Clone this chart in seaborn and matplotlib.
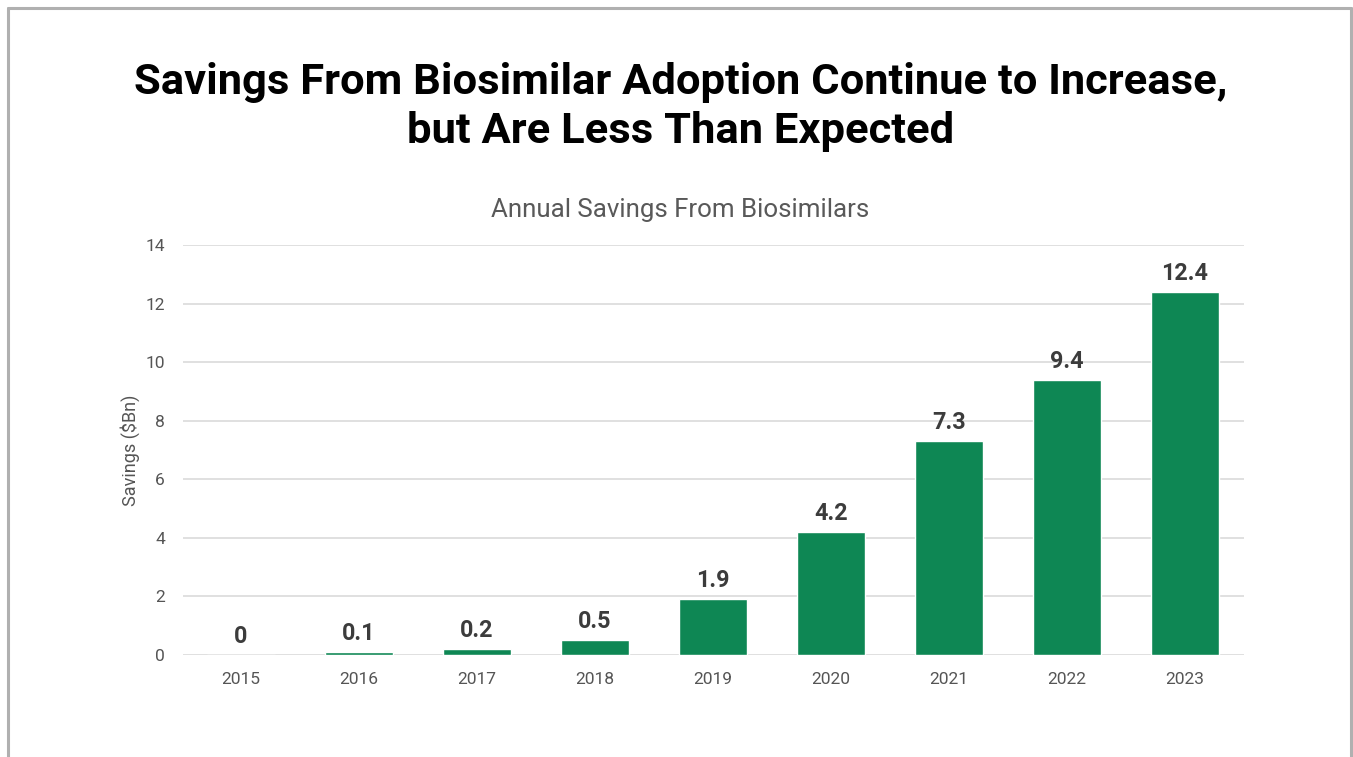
import matplotlib
matplotlib.use("Agg")
import matplotlib.pyplot as plt
from matplotlib.lines import Line2D
import seaborn as sns
import pandas as pd

years = ["2015", "2016", "2017", "2018", "2019", "2020", "2021", "2022", "2023"]
savings = [0, 0.1, 0.2, 0.5, 1.9, 4.2, 7.3, 9.4, 12.4]
value_labels = ["0", "0.1", "0.2", "0.5", "1.9", "4.2", "7.3", "9.4", "12.4"]
y_ticks = [0, 2, 4, 6, 8, 10, 12, 14]

title = "Savings From Biosimilar Adoption Continue to Increase,\nbut Are Less Than Expected"
subtitle = "Annual Savings From Biosimilars"
y_label = "Savings ($Bn)"

bar_color = "#0E8754"
grid_color = "#DADADA"
tick_color = "#555555"

sns.set_theme(style="white")
plt.rcParams["font.family"] = ["Roboto", "DejaVu Sans"]

df = pd.DataFrame({"year": years, "savings": savings})

fig = plt.figure(figsize=(13.53, 7.57), dpi=100)
ax = fig.add_axes([0.1353, 0.1347, 0.7841, 0.5417])

sns.barplot(data=df, x="year", y="savings", color=bar_color, saturation=1,
            width=0.57, ax=ax, zorder=3)

ax.set_ylim(0, 14)
ax.set_xlim(-0.49, 8.5)
ax.set_yticks(y_ticks)
ax.set_yticklabels([str(t) for t in y_ticks])
ax.yaxis.grid(True, color=grid_color, linewidth=1.2, zorder=0)
ax.xaxis.grid(False)
for s in ax.spines.values():
    s.set_visible(False)
ax.tick_params(axis="both", length=0, labelsize=12.5, labelcolor=tick_color)
ax.tick_params(axis="x", pad=12)
ax.tick_params(axis="y", pad=13)
ax.set_xlabel("")
ax.set_ylabel(y_label, fontsize=13, color=tick_color)
ax.yaxis.set_label_coords(-0.041, 0.5)

for i, (v, lab) in enumerate(zip(savings, value_labels)):
    ax.annotate(lab, (i, v), xytext=(0, 5), textcoords="offset points",
                ha="center", va="bottom", fontsize=16.8, fontweight="bold",
                color="#3C3C3C")

fig.text(0.503, 0.858, title, ha="center", va="center", fontsize=31.3,
         fontweight="bold", color="black", linespacing=1.25)
fig.text(0.503, 0.722, subtitle, ha="center", va="center", fontsize=18.6,
         color="#595959")

# frame around the slide (open at the bottom)
W, H = 1353, 757
frame_kw = dict(color="#B0B0B0", linewidth=2.2, transform=fig.transFigure)
fig.add_artist(Line2D([8 / W, 8 / W], [0, 1 - 8 / H], **frame_kw))
fig.add_artist(Line2D([8 / W, 1351 / W], [1 - 8 / H, 1 - 8 / H], **frame_kw))
fig.add_artist(Line2D([1351 / W, 1351 / W], [0, 1 - 8 / H], **frame_kw))

fig.savefig("out.png", dpi=100, facecolor="white")
